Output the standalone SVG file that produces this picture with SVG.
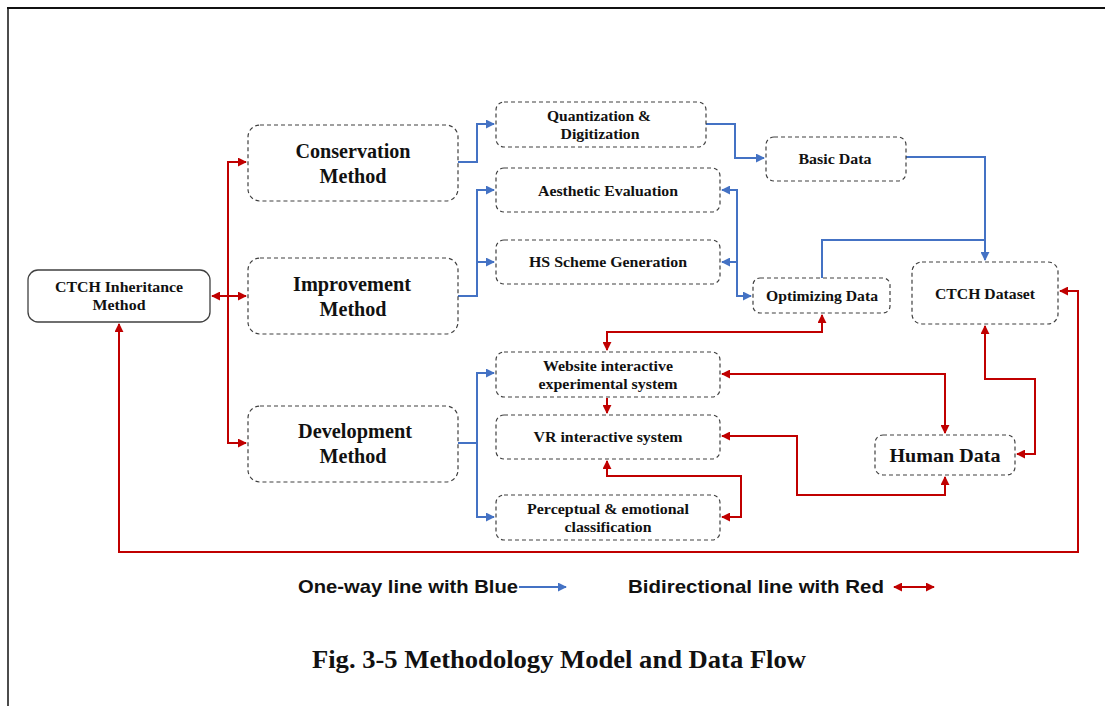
<svg xmlns="http://www.w3.org/2000/svg" width="1105" height="706" viewBox="0 0 1105 706">
<style>
.node{fill:#fff;stroke:#404040;stroke-width:1.2;stroke-dasharray:4 3}
.solid{fill:#fff;stroke:#404040;stroke-width:1.3}
.t{font-family:"Liberation Serif","Times New Roman",serif;font-weight:bold;fill:#111;text-anchor:middle}
.s14{font-size:15px}
.s18{font-size:20px}
.blue{fill:none;stroke:#4472C4;stroke-width:2}
.red{fill:none;stroke:#C00000;stroke-width:2}
.leg{font-family:"Liberation Sans",Arial,sans-serif;font-weight:bold;font-size:19px;fill:#111}
</style>
<defs>
<marker id="ab" viewBox="0 0 10 10" refX="9" refY="5" markerWidth="4.5" markerHeight="4.5" orient="auto-start-reverse" markerUnits="strokeWidth"><path d="M0,0 L10,5 L0,10 z" fill="#4472C4"/></marker>
<marker id="ar" viewBox="0 0 10 10" refX="9" refY="5" markerWidth="4.5" markerHeight="4.5" orient="auto-start-reverse" markerUnits="strokeWidth"><path d="M0,0 L10,5 L0,10 z" fill="#C00000"/></marker>
</defs>
<rect width="1105" height="706" fill="#fff"/>
<g id="frame">
<line x1="7" y1="8" x2="1105" y2="8" stroke="#111" stroke-width="2"/>
<line x1="8" y1="8" x2="8" y2="706" stroke="#111" stroke-width="1.5"/>
</g>
<g id="connectors">
<path class="red" d="M212,296 L246,296" marker-start="url(#ar)" marker-end="url(#ar)"/>
<path class="red" d="M246,162 L228,162 L228,443 L246,443" marker-start="url(#ar)" marker-end="url(#ar)"/>
<path class="red" d="M119,324 L119,552 L1078,552 L1078,291 L1060,291" marker-start="url(#ar)" marker-end="url(#ar)"/>
<path class="red" d="M822,315 L822,332 L607,332 L607,350" marker-start="url(#ar)" marker-end="url(#ar)"/>
<path class="red" d="M607,398 L607,413" marker-end="url(#ar)"/>
<path class="red" d="M607,461 L607,476 L741,476 L741,517 L722,517" marker-start="url(#ar)" marker-end="url(#ar)"/>
<path class="red" d="M722,374 L945,374 L945,433" marker-start="url(#ar)" marker-end="url(#ar)"/>
<path class="red" d="M722,436 L797,436 L797,495 L945,495 L945,477" marker-start="url(#ar)" marker-end="url(#ar)"/>
<path class="red" d="M1017,454 L1035,454 L1035,379 L985,379 L985,326" marker-start="url(#ar)" marker-end="url(#ar)"/>
<path class="blue" d="M458,162 L477,162 L477,124 L494,124" marker-end="url(#ab)"/>
<path class="blue" d="M458,296 L477,296 L477,190 L494,190" marker-end="url(#ab)"/>
<path class="blue" d="M477,262 L494,262" marker-end="url(#ab)"/>
<path class="blue" d="M458,443 L477,443"/>
<path class="blue" d="M494,373 L477,373 L477,517 L494,517" marker-start="url(#ab)" marker-end="url(#ab)"/>
<path class="blue" d="M706,124 L735,124 L735,158 L764,158" marker-end="url(#ab)"/>
<path class="blue" d="M906,157 L985,157 L985,260" marker-end="url(#ab)"/>
<path class="blue" d="M822,278 L822,240 L985,240"/>
<path class="blue" d="M722,190 L737,190 L737,296 L751,296" marker-start="url(#ab)" marker-end="url(#ab)"/>
<path class="blue" d="M722,262 L737,262" marker-start="url(#ab)"/>
</g>
<g id="n-ctch-inheritance">
<rect class="solid" x="28" y="270" width="182" height="52" rx="10"/>
<text class="t s14" x="119" y="292" textLength="128" lengthAdjust="spacingAndGlyphs">CTCH Inheritance</text>
<text class="t s14" x="119" y="310" textLength="53" lengthAdjust="spacingAndGlyphs">Method</text>
</g>
<g id="n-conservation">
<rect class="node" x="248" y="125" width="210" height="76" rx="12"/>
<text class="t s18" x="353" y="158" textLength="115" lengthAdjust="spacingAndGlyphs">Conservation</text>
<text class="t s18" x="353" y="183" textLength="67" lengthAdjust="spacingAndGlyphs">Method</text>
</g>
<g id="n-improvement">
<rect class="node" x="248" y="258" width="210" height="76" rx="12"/>
<text class="t s18" x="352" y="291" textLength="118" lengthAdjust="spacingAndGlyphs">Improvement</text>
<text class="t s18" x="353" y="316" textLength="67" lengthAdjust="spacingAndGlyphs">Method</text>
</g>
<g id="n-development">
<rect class="node" x="248" y="406" width="210" height="76" rx="12"/>
<text class="t s18" x="355" y="438" textLength="114" lengthAdjust="spacingAndGlyphs">Development</text>
<text class="t s18" x="353" y="463" textLength="67" lengthAdjust="spacingAndGlyphs">Method</text>
</g>
<g id="n-quantization">
<rect class="node" x="496" y="102" width="210" height="45" rx="8"/>
<text class="t s14" x="599" y="121" textLength="104" lengthAdjust="spacingAndGlyphs">Quantization &amp;</text>
<text class="t s14" x="600" y="139" textLength="79" lengthAdjust="spacingAndGlyphs">Digitization</text>
</g>
<g id="n-aesthetic">
<rect class="node" x="496" y="168" width="224" height="44" rx="8"/>
<text class="t s14" x="608" y="196" textLength="140" lengthAdjust="spacingAndGlyphs">Aesthetic Evaluation</text>
</g>
<g id="n-hs">
<rect class="node" x="496" y="240" width="224" height="44" rx="8"/>
<text class="t s14" x="608" y="267" textLength="158" lengthAdjust="spacingAndGlyphs">HS Scheme Generation</text>
</g>
<g id="n-basic">
<rect class="node" x="766" y="137" width="140" height="44" rx="8"/>
<text class="t s14" x="835" y="164" textLength="73" lengthAdjust="spacingAndGlyphs">Basic Data</text>
</g>
<g id="n-optimizing">
<rect class="node" x="753" y="278" width="137" height="35" rx="7"/>
<text class="t s14" x="822" y="301" textLength="112" lengthAdjust="spacingAndGlyphs">Optimizing Data</text>
</g>
<g id="n-ctch-dataset">
<rect class="node" x="912" y="262" width="146" height="62" rx="10"/>
<text class="t s14" x="985" y="299" textLength="100" lengthAdjust="spacingAndGlyphs">CTCH Dataset</text>
</g>
<g id="n-website">
<rect class="node" x="496" y="352" width="224" height="45" rx="8"/>
<text class="t s14" x="608" y="371" textLength="130" lengthAdjust="spacingAndGlyphs">Website interactive</text>
<text class="t s14" x="608" y="389" textLength="139" lengthAdjust="spacingAndGlyphs">experimental system</text>
</g>
<g id="n-vr">
<rect class="node" x="496" y="415" width="224" height="44" rx="8"/>
<text class="t s14" x="608" y="442" textLength="149" lengthAdjust="spacingAndGlyphs">VR interactive system</text>
</g>
<g id="n-perceptual">
<rect class="node" x="496" y="495" width="224" height="45" rx="8"/>
<text class="t s14" x="608" y="514" textLength="162" lengthAdjust="spacingAndGlyphs">Perceptual &amp; emotional</text>
<text class="t s14" x="608" y="532" textLength="87" lengthAdjust="spacingAndGlyphs">classification</text>
</g>
<g id="n-human">
<rect class="node" x="875" y="435" width="140" height="40" rx="8"/>
<text class="t" style="font-size:19px" x="945" y="462" textLength="111" lengthAdjust="spacingAndGlyphs">Human Data</text>
</g>
<g id="legend">
<text class="leg" x="298" y="593" textLength="220" lengthAdjust="spacingAndGlyphs">One-way line with Blue</text>
<path class="blue" d="M519,587 L566,587" marker-end="url(#ab)"/>
<text class="leg" x="628" y="593" textLength="256" lengthAdjust="spacingAndGlyphs">Bidirectional line with Red</text>
<path class="red" d="M894,587 L934,587" marker-start="url(#ar)" marker-end="url(#ar)"/>
</g>
<text class="t" style="font-size:26px;text-anchor:start" x="312" y="668" textLength="494" lengthAdjust="spacingAndGlyphs">Fig. 3-5 Methodology Model and Data Flow</text>
</svg>
